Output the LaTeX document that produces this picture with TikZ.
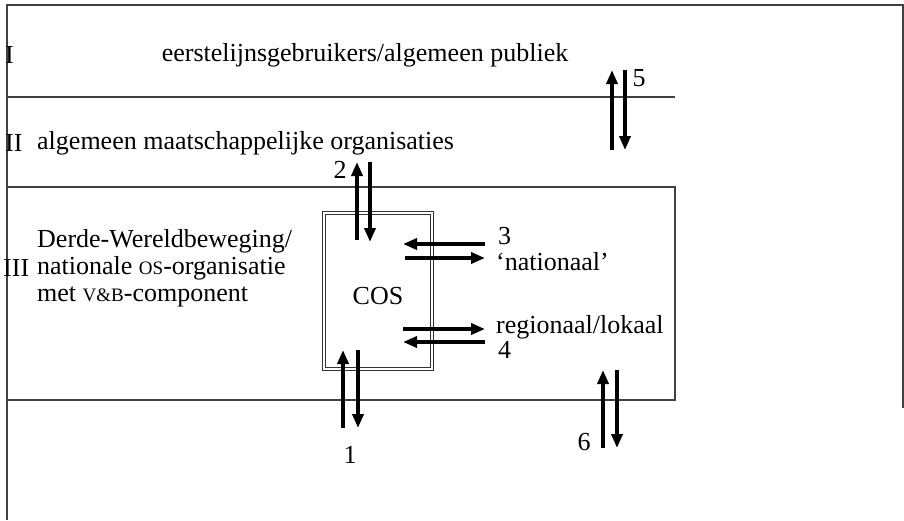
\documentclass[tikz,border=0pt]{standalone}
\usepackage{fontspec}
\setmainfont{Liberation Serif}
\usetikzlibrary{arrows.meta}
\newcommand{\fsc}[1]{{\fontsize{19}{21}\selectfont #1}}
\tikzset{
  frame/.style={draw=black!75, line width=1.4pt},
  arr/.style={line width=3.6pt, -{Triangle[length=14pt,width=11pt]}},
  lbl/.style={font=\fontsize{26}{27}\selectfont, inner sep=0pt},
}
\begin{document}
\begin{tikzpicture}[x=1pt, y=-1pt]
  \useasboundingbox (0,0) rectangle (904,520);
  % bands
  \draw[frame] (7,520) -- (7,5) -- (903,5) -- (903,408);
  \draw[frame] (7,97) -- (675,97);
  \draw[frame] (7,187) -- (675,187) -- (675,400) -- (7,400);
  % band labels
  \node[lbl, anchor=west] (rI) at (5,55) {I};
  \node[lbl, anchor=west] (rII) at (5,143) {II};
  \node[lbl, anchor=west] (rIII) at (3,268) {III};
  \node[lbl] (publiek) at (365,55) {eerstelijnsgebruikers/algemeen publiek};
  \node[lbl, anchor=west] (maatsch) at (37,143) {algemeen maatschappelijke organisaties};
  \node[lbl, anchor=west, align=left] (dwb) at (37,268)
    {Derde-Wereldbeweging/\\nationale \fsc{OS}-organisatie\\met \fsc{V\&B}-component};
  % COS
  \node[draw=black!80, double, double distance=2pt, line width=0.9pt,
        minimum width=108pt, minimum height=156pt, lbl] (cos) at (378,291) {};
  \node[lbl] (costxt) at (378,296) {COS};
  % side labels
  \node[lbl, anchor=west] (n3) at (498,236) {3};
  \node[lbl, anchor=west] (nat) at (496,262) {‘nationaal’};
  \node[lbl, anchor=west] (reg) at (496,327) {regionaal/lokaal};
  \node[lbl, anchor=west] (n4) at (498,350) {4};
  \node[lbl] (n2) at (340,170) {2};
  \node[lbl] (n5) at (639,78) {5};
  \node[lbl] (n1) at (350,455) {1};
  \node[lbl] (n6) at (584,442) {6};
  % arrow ends
  \coordinate (a2up0) at (357,240);  \coordinate (a2up1) at (357,162);
  \coordinate (a2dn0) at (370,162);  \coordinate (a2dn1) at (370,242);
  \coordinate (a5up0) at (612,150);  \coordinate (a5up1) at (612,70);
  \coordinate (a5dn0) at (625,70);   \coordinate (a5dn1) at (625,150);
  \coordinate (a3lt0) at (485,244);  \coordinate (a3lt1) at (403,244);
  \coordinate (a3rt0) at (405,258);  \coordinate (a3rt1) at (485,258);
  \coordinate (a4rt0) at (403,329);  \coordinate (a4rt1) at (485,329);
  \coordinate (a4lt0) at (485,342);  \coordinate (a4lt1) at (403,342);
  \coordinate (a1up0) at (343,428);  \coordinate (a1up1) at (343,350);
  \coordinate (a1dn0) at (358,350);  \coordinate (a1dn1) at (358,428);
  \coordinate (a6up0) at (603,448);  \coordinate (a6up1) at (603,370);
  \coordinate (a6dn0) at (617,370);  \coordinate (a6dn1) at (617,448);
  % flows
  \draw[arr] (a2up0) -- (a2up1);
  \draw[arr] (a2dn0) -- (a2dn1);
  \draw[arr] (a5up0) -- (a5up1);
  \draw[arr] (a5dn0) -- (a5dn1);
  \draw[arr] (a3lt0) -- (a3lt1);
  \draw[arr] (a3rt0) -- (a3rt1);
  \draw[arr] (a4rt0) -- (a4rt1);
  \draw[arr] (a4lt0) -- (a4lt1);
  \draw[arr] (a1up0) -- (a1up1);
  \draw[arr] (a1dn0) -- (a1dn1);
  \draw[arr] (a6up0) -- (a6up1);
  \draw[arr] (a6dn0) -- (a6dn1);
\end{tikzpicture}
\end{document}
